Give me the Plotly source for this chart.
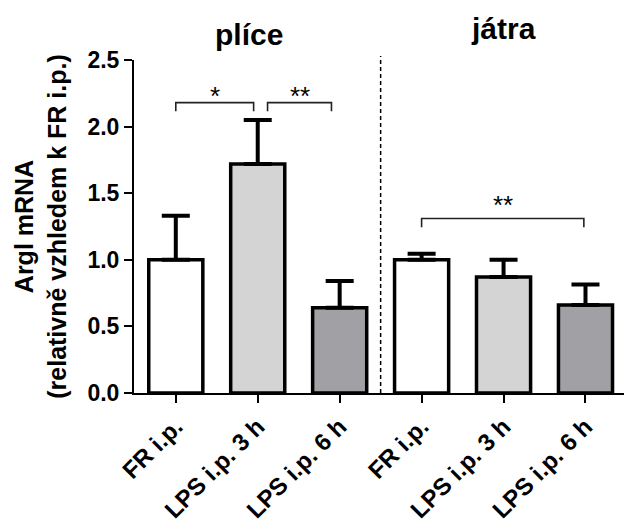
import plotly.graph_objects as go

# Argl mRNA expression relative to FR i.p., lungs (plíce) and liver (játra)
tick_labels = ["FR i.p.", "LPS i.p. 3 h", "LPS i.p. 6 h",
               "FR i.p.", "LPS i.p. 3 h", "LPS i.p. 6 h"]
positions = [0, 1, 2, 3, 4, 5]
means = [1.00, 1.72, 0.64, 1.00, 0.87, 0.66]
errors_up = [0.33, 0.33, 0.20, 0.045, 0.13, 0.155]
fill_colors = ["#FFFFFF", "#D4D4D4", "#A1A1A5",
               "#FFFFFF", "#D4D4D4", "#A1A1A5"]

group_titles = ["plíce", "játra"]
group_title_x = [0.89, 4.0]
group_title_y = [1.078, 1.096]   # paper fraction, above the plot area

# significance brackets: (x start, x end, y top, label y, label)
brackets = [
    (0.0, 0.95, 2.18, 2.23, "*"),
    (1.12, 1.90, 2.18, 2.23, "**"),
    (3.0, 4.98, 1.31, 1.41, "**"),
]
bracket_drop = 0.065

FONT = "Liberation Sans, Arial, sans-serif"

fig = go.Figure()

fig.add_trace(go.Bar(
    x=positions,
    y=means,
    width=0.66,
    marker=dict(color=fill_colors, line=dict(color="black", width=3.5)),
    error_y=dict(type="data", array=errors_up, arrayminus=[0] * len(means),
                 symmetric=False, color="black", thickness=4, width=14),
    showlegend=False,
))

for x0, x1, yt, ly, label in brackets:
    fig.add_trace(go.Scatter(
        x=[x0, x0, x1, x1],
        y=[yt - bracket_drop, yt, yt, yt - bracket_drop],
        mode="lines",
        line=dict(color="#222222", width=1.6),
        showlegend=False, hoverinfo="skip",
    ))
    fig.add_annotation(
        x=(x0 + x1) / 2, y=ly, text=label, showarrow=False,
        xanchor="center", yanchor="middle",
        font=dict(family=FONT, size=26, color="black"),
    )

for title, tx, ty in zip(group_titles, group_title_x, group_title_y):
    fig.add_annotation(
        x=tx, y=ty, xref="x", yref="paper", text=title, showarrow=False,
        xanchor="center", yanchor="middle",
        font=dict(family=FONT, size=30, color="black", weight="bold"),
    )

# dashed separator between the two tissues
fig.add_shape(
    type="line", xref="x", yref="paper", x0=2.5, x1=2.5, y0=0, y1=1.012,
    line=dict(color="black", width=1.5, dash="4px,3px"),
)

fig.update_layout(
    width=624, height=524,
    margin=dict(l=134, r=0, t=60, b=131),
    paper_bgcolor="white", plot_bgcolor="white",
    font=dict(family=FONT, color="black"),
    xaxis=dict(
        range=[-0.51, 5.47],
        tickmode="array", tickvals=positions, ticktext=tick_labels,
        tickangle=-45,
        ticks="outside", ticklen=8, tickwidth=2, tickcolor="black",
        showline=True, linecolor="black", linewidth=2,
        showgrid=False, zeroline=False,
        tickfont=dict(family=FONT, size=24, color="black", weight="bold"),
    ),
    yaxis=dict(
        range=[0, 2.5], dtick=0.5, tickformat=".1f",
        ticks="outside", ticklen=8, tickwidth=2, tickcolor="black",
        showline=True, linecolor="black", linewidth=2,
        showgrid=False, zeroline=False,
        tickfont=dict(family=FONT, size=23, color="black", weight="bold"),
        title=dict(
            text="Argl mRNA<br>(relativně vzhledem k FR i.p.)",
            font=dict(family=FONT, size=25, color="black", weight="bold"),
            standoff=14,
        ),
    ),
)

fig.write_html("out.html")
